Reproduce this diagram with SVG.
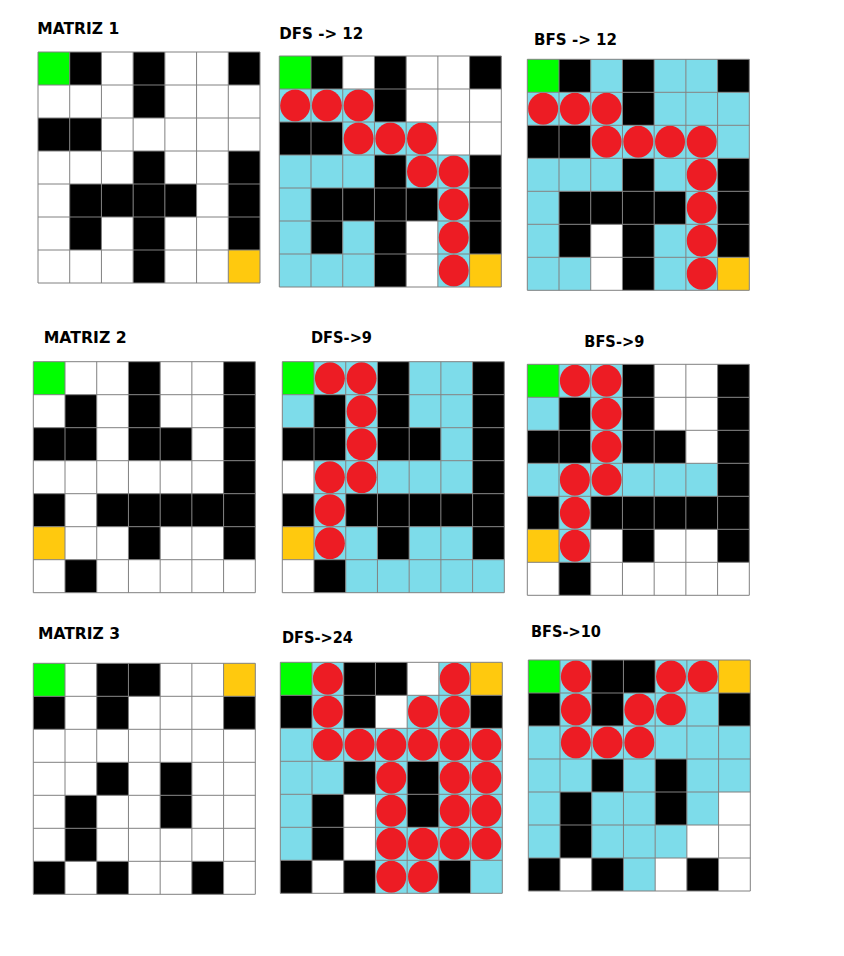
<svg xmlns="http://www.w3.org/2000/svg" xmlns:xlink="http://www.w3.org/1999/xlink" width="844" height="956" viewBox="0 0 844 956">
<style>
.b{fill:#000}.g{fill:#00FF00}.y{fill:#FFC90E}.c{fill:#7DDCEA}.r{fill:#ED1C24}.w{fill:#fff}
.t{font-family:"DejaVu Sans","Liberation Sans",sans-serif;font-weight:bold;font-size:15px;fill:#000}
.gl{fill:none;stroke:#808080;stroke-width:1}
</style>
<defs>
<rect id="k" width="31.71" height="33"/>
<g id="rc"><rect width="31.71" height="33" class="c"/><ellipse cx="15.86" cy="16.5" rx="15" ry="16" class="r"/></g>
<path id="grid" class="gl" d="M0 0V231M31.71 0V231M63.43 0V231M95.14 0V231M126.86 0V231M158.57 0V231M190.29 0V231M222 0V231M0 0H222M0 33H222M0 66H222M0 99H222M0 132H222M0 165H222M0 198H222M0 231H222"/>
</defs>
<rect width="844" height="956" fill="#fff"/>

<g id="matriz1">
<text class="t" x="37.3" y="34" textLength="82" lengthAdjust="spacingAndGlyphs">MATRIZ 1</text>
<g transform="translate(38,52)">
<rect class="w" width="222" height="231"/>
<use href="#k" class="g" x="0" y="0"/><use href="#k" class="b" x="31.71" y="0"/><use href="#k" class="b" x="95.14" y="0"/><use href="#k" class="b" x="190.29" y="0"/>
<use href="#k" class="b" x="95.14" y="33"/>
<use href="#k" class="b" x="0" y="66"/><use href="#k" class="b" x="31.71" y="66"/>
<use href="#k" class="b" x="95.14" y="99"/><use href="#k" class="b" x="190.29" y="99"/>
<use href="#k" class="b" x="31.71" y="132"/><use href="#k" class="b" x="63.43" y="132"/><use href="#k" class="b" x="95.14" y="132"/><use href="#k" class="b" x="126.86" y="132"/><use href="#k" class="b" x="190.29" y="132"/>
<use href="#k" class="b" x="31.71" y="165"/><use href="#k" class="b" x="95.14" y="165"/><use href="#k" class="b" x="190.29" y="165"/>
<use href="#k" class="b" x="95.14" y="198"/><use href="#k" class="y" x="190.29" y="198"/>
<use href="#grid"/>
</g>
</g>

<g id="dfs1">
<text class="t" x="279.3" y="39" textLength="84" lengthAdjust="spacingAndGlyphs">DFS -&gt; 12</text>
<g transform="translate(279.3,56)">
<rect class="w" width="222" height="231"/>
<use href="#k" class="g" x="0" y="0"/><use href="#k" class="b" x="31.71" y="0"/><use href="#k" class="b" x="95.14" y="0"/><use href="#k" class="b" x="190.29" y="0"/>
<use href="#rc" x="0" y="33"/><use href="#rc" x="31.71" y="33"/><use href="#rc" x="63.43" y="33"/><use href="#k" class="b" x="95.14" y="33"/>
<use href="#k" class="b" x="0" y="66"/><use href="#k" class="b" x="31.71" y="66"/><use href="#rc" x="63.43" y="66"/><use href="#rc" x="95.14" y="66"/><use href="#rc" x="126.86" y="66"/>
<use href="#k" class="c" x="0" y="99"/><use href="#k" class="c" x="31.71" y="99"/><use href="#k" class="c" x="63.43" y="99"/><use href="#k" class="b" x="95.14" y="99"/><use href="#rc" x="126.86" y="99"/><use href="#rc" x="158.57" y="99"/><use href="#k" class="b" x="190.29" y="99"/>
<use href="#k" class="c" x="0" y="132"/><use href="#k" class="b" x="31.71" y="132"/><use href="#k" class="b" x="63.43" y="132"/><use href="#k" class="b" x="95.14" y="132"/><use href="#k" class="b" x="126.86" y="132"/><use href="#rc" x="158.57" y="132"/><use href="#k" class="b" x="190.29" y="132"/>
<use href="#k" class="c" x="0" y="165"/><use href="#k" class="b" x="31.71" y="165"/><use href="#k" class="c" x="63.43" y="165"/><use href="#k" class="b" x="95.14" y="165"/><use href="#rc" x="158.57" y="165"/><use href="#k" class="b" x="190.29" y="165"/>
<use href="#k" class="c" x="0" y="198"/><use href="#k" class="c" x="31.71" y="198"/><use href="#k" class="c" x="63.43" y="198"/><use href="#k" class="b" x="95.14" y="198"/><use href="#rc" x="158.57" y="198"/><use href="#k" class="y" x="190.29" y="198"/>
<use href="#grid"/>
</g>
</g>

<g id="bfs1">
<text class="t" x="534" y="45" textLength="83" lengthAdjust="spacingAndGlyphs">BFS -&gt; 12</text>
<g transform="translate(527.3,59.3)">
<rect class="w" width="222" height="231"/>
<use href="#k" class="g" x="0" y="0"/><use href="#k" class="b" x="31.71" y="0"/><use href="#k" class="c" x="63.43" y="0"/><use href="#k" class="b" x="95.14" y="0"/><use href="#k" class="c" x="126.86" y="0"/><use href="#k" class="c" x="158.57" y="0"/><use href="#k" class="b" x="190.29" y="0"/>
<use href="#rc" x="0" y="33"/><use href="#rc" x="31.71" y="33"/><use href="#rc" x="63.43" y="33"/><use href="#k" class="b" x="95.14" y="33"/><use href="#k" class="c" x="126.86" y="33"/><use href="#k" class="c" x="158.57" y="33"/><use href="#k" class="c" x="190.29" y="33"/>
<use href="#k" class="b" x="0" y="66"/><use href="#k" class="b" x="31.71" y="66"/><use href="#rc" x="63.43" y="66"/><use href="#rc" x="95.14" y="66"/><use href="#rc" x="126.86" y="66"/><use href="#rc" x="158.57" y="66"/><use href="#k" class="c" x="190.29" y="66"/>
<use href="#k" class="c" x="0" y="99"/><use href="#k" class="c" x="31.71" y="99"/><use href="#k" class="c" x="63.43" y="99"/><use href="#k" class="b" x="95.14" y="99"/><use href="#k" class="c" x="126.86" y="99"/><use href="#rc" x="158.57" y="99"/><use href="#k" class="b" x="190.29" y="99"/>
<use href="#k" class="c" x="0" y="132"/><use href="#k" class="b" x="31.71" y="132"/><use href="#k" class="b" x="63.43" y="132"/><use href="#k" class="b" x="95.14" y="132"/><use href="#k" class="b" x="126.86" y="132"/><use href="#rc" x="158.57" y="132"/><use href="#k" class="b" x="190.29" y="132"/>
<use href="#k" class="c" x="0" y="165"/><use href="#k" class="b" x="31.71" y="165"/><use href="#k" class="b" x="95.14" y="165"/><use href="#k" class="c" x="126.86" y="165"/><use href="#rc" x="158.57" y="165"/><use href="#k" class="b" x="190.29" y="165"/>
<use href="#k" class="c" x="0" y="198"/><use href="#k" class="c" x="31.71" y="198"/><use href="#k" class="b" x="95.14" y="198"/><use href="#k" class="c" x="126.86" y="198"/><use href="#rc" x="158.57" y="198"/><use href="#k" class="y" x="190.29" y="198"/>
<use href="#grid"/>
</g>
</g>

<g id="matriz2">
<text class="t" x="43.7" y="342.7" textLength="83" lengthAdjust="spacingAndGlyphs">MATRIZ 2</text>
<g transform="translate(33.3,361.7)">
<rect class="w" width="222" height="231"/>
<use href="#k" class="g" x="0" y="0"/><use href="#k" class="b" x="95.14" y="0"/><use href="#k" class="b" x="190.29" y="0"/>
<use href="#k" class="b" x="31.71" y="33"/><use href="#k" class="b" x="95.14" y="33"/><use href="#k" class="b" x="190.29" y="33"/>
<use href="#k" class="b" x="0" y="66"/><use href="#k" class="b" x="31.71" y="66"/><use href="#k" class="b" x="95.14" y="66"/><use href="#k" class="b" x="126.86" y="66"/><use href="#k" class="b" x="190.29" y="66"/>
<use href="#k" class="b" x="190.29" y="99"/>
<use href="#k" class="b" x="0" y="132"/><use href="#k" class="b" x="63.43" y="132"/><use href="#k" class="b" x="95.14" y="132"/><use href="#k" class="b" x="126.86" y="132"/><use href="#k" class="b" x="158.57" y="132"/><use href="#k" class="b" x="190.29" y="132"/>
<use href="#k" class="y" x="0" y="165"/><use href="#k" class="b" x="95.14" y="165"/><use href="#k" class="b" x="190.29" y="165"/>
<use href="#k" class="b" x="31.71" y="198"/>
<use href="#grid"/>
</g>
</g>

<g id="dfs2">
<text class="t" x="311" y="342.7" textLength="61" lengthAdjust="spacingAndGlyphs">DFS-&gt;9</text>
<g transform="translate(282.3,361.7)">
<rect class="w" width="222" height="231"/>
<use href="#k" class="g" x="0" y="0"/><use href="#rc" x="31.71" y="0"/><use href="#rc" x="63.43" y="0"/><use href="#k" class="b" x="95.14" y="0"/><use href="#k" class="c" x="126.86" y="0"/><use href="#k" class="c" x="158.57" y="0"/><use href="#k" class="b" x="190.29" y="0"/>
<use href="#k" class="c" x="0" y="33"/><use href="#k" class="b" x="31.71" y="33"/><use href="#rc" x="63.43" y="33"/><use href="#k" class="b" x="95.14" y="33"/><use href="#k" class="c" x="126.86" y="33"/><use href="#k" class="c" x="158.57" y="33"/><use href="#k" class="b" x="190.29" y="33"/>
<use href="#k" class="b" x="0" y="66"/><use href="#k" class="b" x="31.71" y="66"/><use href="#rc" x="63.43" y="66"/><use href="#k" class="b" x="95.14" y="66"/><use href="#k" class="b" x="126.86" y="66"/><use href="#k" class="c" x="158.57" y="66"/><use href="#k" class="b" x="190.29" y="66"/>
<use href="#rc" x="31.71" y="99"/><use href="#rc" x="63.43" y="99"/><use href="#k" class="c" x="95.14" y="99"/><use href="#k" class="c" x="126.86" y="99"/><use href="#k" class="c" x="158.57" y="99"/><use href="#k" class="b" x="190.29" y="99"/>
<use href="#k" class="b" x="0" y="132"/><use href="#rc" x="31.71" y="132"/><use href="#k" class="b" x="63.43" y="132"/><use href="#k" class="b" x="95.14" y="132"/><use href="#k" class="b" x="126.86" y="132"/><use href="#k" class="b" x="158.57" y="132"/><use href="#k" class="b" x="190.29" y="132"/>
<use href="#k" class="y" x="0" y="165"/><use href="#rc" x="31.71" y="165"/><use href="#k" class="c" x="63.43" y="165"/><use href="#k" class="b" x="95.14" y="165"/><use href="#k" class="c" x="126.86" y="165"/><use href="#k" class="c" x="158.57" y="165"/><use href="#k" class="b" x="190.29" y="165"/>
<use href="#k" class="b" x="31.71" y="198"/><use href="#k" class="c" x="63.43" y="198"/><use href="#k" class="c" x="95.14" y="198"/><use href="#k" class="c" x="126.86" y="198"/><use href="#k" class="c" x="158.57" y="198"/><use href="#k" class="c" x="190.29" y="198"/>
<use href="#grid"/>
</g>
</g>

<g id="bfs2">
<text class="t" x="584.3" y="347" textLength="60" lengthAdjust="spacingAndGlyphs">BFS-&gt;9</text>
<g transform="translate(527.3,364.3)">
<rect class="w" width="222" height="231"/>
<use href="#k" class="g" x="0" y="0"/><use href="#rc" x="31.71" y="0"/><use href="#rc" x="63.43" y="0"/><use href="#k" class="b" x="95.14" y="0"/><use href="#k" class="b" x="190.29" y="0"/>
<use href="#k" class="c" x="0" y="33"/><use href="#k" class="b" x="31.71" y="33"/><use href="#rc" x="63.43" y="33"/><use href="#k" class="b" x="95.14" y="33"/><use href="#k" class="b" x="190.29" y="33"/>
<use href="#k" class="b" x="0" y="66"/><use href="#k" class="b" x="31.71" y="66"/><use href="#rc" x="63.43" y="66"/><use href="#k" class="b" x="95.14" y="66"/><use href="#k" class="b" x="126.86" y="66"/><use href="#k" class="b" x="190.29" y="66"/>
<use href="#k" class="c" x="0" y="99"/><use href="#rc" x="31.71" y="99"/><use href="#rc" x="63.43" y="99"/><use href="#k" class="c" x="95.14" y="99"/><use href="#k" class="c" x="126.86" y="99"/><use href="#k" class="c" x="158.57" y="99"/><use href="#k" class="b" x="190.29" y="99"/>
<use href="#k" class="b" x="0" y="132"/><use href="#rc" x="31.71" y="132"/><use href="#k" class="b" x="63.43" y="132"/><use href="#k" class="b" x="95.14" y="132"/><use href="#k" class="b" x="126.86" y="132"/><use href="#k" class="b" x="158.57" y="132"/><use href="#k" class="b" x="190.29" y="132"/>
<use href="#k" class="y" x="0" y="165"/><use href="#rc" x="31.71" y="165"/><use href="#k" class="b" x="95.14" y="165"/><use href="#k" class="b" x="190.29" y="165"/>
<use href="#k" class="b" x="31.71" y="198"/>
<use href="#grid"/>
</g>
</g>

<g id="matriz3">
<text class="t" x="38" y="639.3" textLength="82" lengthAdjust="spacingAndGlyphs">MATRIZ 3</text>
<g transform="translate(33.3,663.3)">
<rect class="w" width="222" height="231"/>
<use href="#k" class="g" x="0" y="0"/><use href="#k" class="b" x="63.43" y="0"/><use href="#k" class="b" x="95.14" y="0"/><use href="#k" class="y" x="190.29" y="0"/>
<use href="#k" class="b" x="0" y="33"/><use href="#k" class="b" x="63.43" y="33"/><use href="#k" class="b" x="190.29" y="33"/>
<use href="#k" class="b" x="63.43" y="99"/><use href="#k" class="b" x="126.86" y="99"/>
<use href="#k" class="b" x="31.71" y="132"/><use href="#k" class="b" x="126.86" y="132"/>
<use href="#k" class="b" x="31.71" y="165"/>
<use href="#k" class="b" x="0" y="198"/><use href="#k" class="b" x="63.43" y="198"/><use href="#k" class="b" x="158.57" y="198"/>
<use href="#grid"/>
</g>
</g>

<g id="dfs3">
<text class="t" x="282" y="642.7" textLength="71" lengthAdjust="spacingAndGlyphs">DFS-&gt;24</text>
<g transform="translate(280.3,662.3)">
<rect class="w" width="222" height="231"/>
<use href="#k" class="g" x="0" y="0"/><use href="#rc" x="31.71" y="0"/><use href="#k" class="b" x="63.43" y="0"/><use href="#k" class="b" x="95.14" y="0"/><use href="#rc" x="158.57" y="0"/><use href="#k" class="y" x="190.29" y="0"/>
<use href="#k" class="b" x="0" y="33"/><use href="#rc" x="31.71" y="33"/><use href="#k" class="b" x="63.43" y="33"/><use href="#rc" x="126.86" y="33"/><use href="#rc" x="158.57" y="33"/><use href="#k" class="b" x="190.29" y="33"/>
<use href="#k" class="c" x="0" y="66"/><use href="#rc" x="31.71" y="66"/><use href="#rc" x="63.43" y="66"/><use href="#rc" x="95.14" y="66"/><use href="#rc" x="126.86" y="66"/><use href="#rc" x="158.57" y="66"/><use href="#rc" x="190.29" y="66"/>
<use href="#k" class="c" x="0" y="99"/><use href="#k" class="c" x="31.71" y="99"/><use href="#k" class="b" x="63.43" y="99"/><use href="#rc" x="95.14" y="99"/><use href="#k" class="b" x="126.86" y="99"/><use href="#rc" x="158.57" y="99"/><use href="#rc" x="190.29" y="99"/>
<use href="#k" class="c" x="0" y="132"/><use href="#k" class="b" x="31.71" y="132"/><use href="#rc" x="95.14" y="132"/><use href="#k" class="b" x="126.86" y="132"/><use href="#rc" x="158.57" y="132"/><use href="#rc" x="190.29" y="132"/>
<use href="#k" class="c" x="0" y="165"/><use href="#k" class="b" x="31.71" y="165"/><use href="#rc" x="95.14" y="165"/><use href="#rc" x="126.86" y="165"/><use href="#rc" x="158.57" y="165"/><use href="#rc" x="190.29" y="165"/>
<use href="#k" class="b" x="0" y="198"/><use href="#k" class="b" x="63.43" y="198"/><use href="#rc" x="95.14" y="198"/><use href="#rc" x="126.86" y="198"/><use href="#k" class="b" x="158.57" y="198"/><use href="#k" class="c" x="190.29" y="198"/>
<use href="#grid"/>
</g>
</g>

<g id="bfs3">
<text class="t" x="531" y="637.3" textLength="70" lengthAdjust="spacingAndGlyphs">BFS-&gt;10</text>
<g transform="translate(528.3,660)">
<rect class="w" width="222" height="231"/>
<use href="#k" class="g" x="0" y="0"/><use href="#rc" x="31.71" y="0"/><use href="#k" class="b" x="63.43" y="0"/><use href="#k" class="b" x="95.14" y="0"/><use href="#rc" x="126.86" y="0"/><use href="#rc" x="158.57" y="0"/><use href="#k" class="y" x="190.29" y="0"/>
<use href="#k" class="b" x="0" y="33"/><use href="#rc" x="31.71" y="33"/><use href="#k" class="b" x="63.43" y="33"/><use href="#rc" x="95.14" y="33"/><use href="#rc" x="126.86" y="33"/><use href="#k" class="c" x="158.57" y="33"/><use href="#k" class="b" x="190.29" y="33"/>
<use href="#k" class="c" x="0" y="66"/><use href="#rc" x="31.71" y="66"/><use href="#rc" x="63.43" y="66"/><use href="#rc" x="95.14" y="66"/><use href="#k" class="c" x="126.86" y="66"/><use href="#k" class="c" x="158.57" y="66"/><use href="#k" class="c" x="190.29" y="66"/>
<use href="#k" class="c" x="0" y="99"/><use href="#k" class="c" x="31.71" y="99"/><use href="#k" class="b" x="63.43" y="99"/><use href="#k" class="c" x="95.14" y="99"/><use href="#k" class="b" x="126.86" y="99"/><use href="#k" class="c" x="158.57" y="99"/><use href="#k" class="c" x="190.29" y="99"/>
<use href="#k" class="c" x="0" y="132"/><use href="#k" class="b" x="31.71" y="132"/><use href="#k" class="c" x="63.43" y="132"/><use href="#k" class="c" x="95.14" y="132"/><use href="#k" class="b" x="126.86" y="132"/><use href="#k" class="c" x="158.57" y="132"/>
<use href="#k" class="c" x="0" y="165"/><use href="#k" class="b" x="31.71" y="165"/><use href="#k" class="c" x="63.43" y="165"/><use href="#k" class="c" x="95.14" y="165"/><use href="#k" class="c" x="126.86" y="165"/>
<use href="#k" class="b" x="0" y="198"/><use href="#k" class="b" x="63.43" y="198"/><use href="#k" class="c" x="95.14" y="198"/><use href="#k" class="b" x="158.57" y="198"/>
<use href="#grid"/>
</g>
</g>
</svg>
